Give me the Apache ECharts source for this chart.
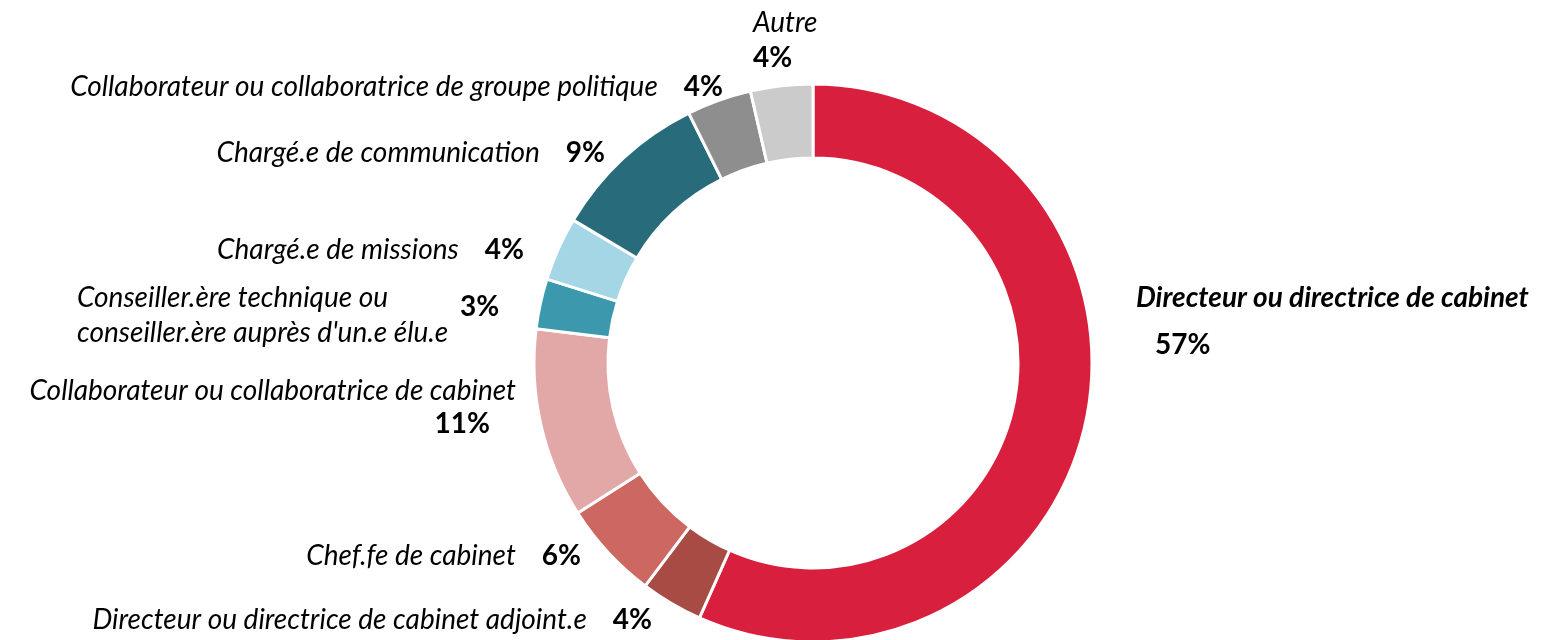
<!DOCTYPE html>
<html>
<head>
<meta charset="utf-8">
<script src="https://cdn.jsdelivr.net/npm/echarts@6/dist/echarts.min.js"></script>
<style>
html, body { margin: 0; padding: 0; background: #fff; }
#chart { width: 1546px; height: 640px; }
</style>
</head>
<body>
<div id="chart"></div>
<script>
var myChart = echarts.init(document.getElementById('chart'));

// parts (%), clockwise from 12 o'clock
var categories = [
    'Directeur ou directrice de cabinet',
    'Directeur ou directrice de cabinet adjoint.e',
    'Chef.fe de cabinet',
    'Collaborateur ou collaboratrice de cabinet',
    'Conseiller.ère technique ou\nconseiller.ère auprès d\'un.e élu.e',
    'Chargé.e de missions',
    'Chargé.e de communication',
    'Collaborateur ou collaboratrice de groupe politique',
    'Autre'
];
var values = [56.7, 3.6, 5.7, 11.0, 2.9, 3.7, 9.1, 3.75, 3.6];
var colors = ['#d8203e', '#a84b45', '#cd6761', '#e2a8a7', '#3c98ad', '#a4d6e5', '#286c7b', '#8e8e8e', '#cbcbcb'];

// label anchor [x, y, align, layout]
var labelPos = [
    [1136, 321, 'left', 'big'],
    [652, 620, 'right', 'inline'],
    [581, 556, 'right', 'inline'],
    [516, 406, 'right', 'below'],
    [77, 315, 'left', 'twoLines'],
    [524, 250, 'right', 'inline'],
    [605, 153, 'right', 'inline'],
    [723, 87, 'right', 'inline'],
    [753, 40, 'left', 'stack']
];

function labelText(p) {
    var pct = Math.round(p.value) + '%';
    var kind = labelPos[p.dataIndex][3];
    if (kind === 'big') return '{b|' + p.name + '}\n{pb|' + pct + '}';
    if (kind === 'below') return '{n|' + p.name + '}\n{pr|' + pct + '}';
    if (kind === 'stack') return '{n|' + p.name + '}\n{p0|' + pct + '}';
    if (kind === 'twoLines') {
        var parts = p.name.split('\n');
        return '{n1|' + parts[0] + '}{p3|' + pct + '}\n{n|' + parts[1] + '}';
    }
    return '{n|' + p.name + '}{p|' + pct + '}';
}

var nameStyle = { fontSize: 28, fontStyle: 'italic', color: '#000', lineHeight: 35, fontFamily: 'Lato' };
var pctStyle = { fontSize: 28, fontWeight: 'bold', color: '#000', lineHeight: 35, fontFamily: 'Lato' };

option = {
    color: colors,
    textStyle: { fontFamily: 'Lato' },
    series: [
        {
            type: 'pie',
            center: [813, 363],
            radius: [205, 279],
            startAngle: 90,
            clockwise: true,
            avoidLabelOverlap: false,
            itemStyle: {
                borderColor: '#fff',
                borderWidth: 3
            },
            label: {
                show: true,
                position: 'outside',
                formatter: labelText,
                color: '#000',
                rich: {
                    n: nameStyle,
                    n1: Object.assign({}, nameStyle, { width: 383 }),
                    p: Object.assign({}, pctStyle, { padding: [0, 0, 0, 26] }),
                    p0: pctStyle,
                    p3: Object.assign({}, pctStyle, { padding: [18, 0, 0, 0] }),
                    pr: Object.assign({}, pctStyle, { lineHeight: 30, padding: [0, 26, 0, 0] }),
                    b: Object.assign({}, nameStyle, { fontWeight: 'bold', lineHeight: 47 }),
                    pb: Object.assign({}, pctStyle, { lineHeight: 47, padding: [0, 0, 0, 19] })
                }
            },
            labelLine: { show: false },
            labelLayout: function (params) {
                var pos = labelPos[params.dataIndex];
                return { x: pos[0], y: pos[1], align: pos[2], verticalAlign: 'middle' };
            },
            emphasis: { disabled: true },
            data: categories.map(function (name, i) {
                return { name: name, value: values[i] };
            })
        }
    ]
};
myChart.setOption(option);
</script>
</body>
</html>
